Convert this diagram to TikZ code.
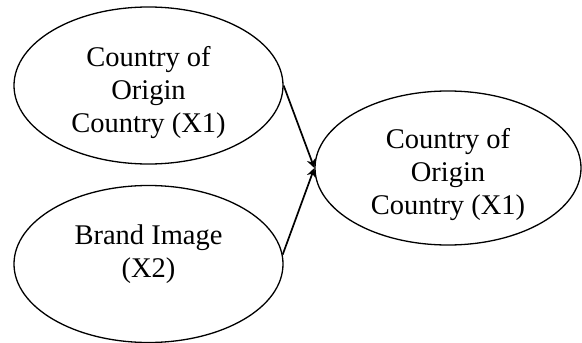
\documentclass[tikz,border=0pt]{standalone}
\usepackage{fontspec}
\setmainfont{Liberation Serif}
\usetikzlibrary{shapes.geometric}
\usetikzlibrary{arrows.meta}
\tikzstyle{construct}=[draw,ellipse,line width=1.3pt,inner sep=0pt,minimum width=269pt,minimum height=157pt,align=center,font=\fontsize{28.5}{33}\selectfont]
\tikzstyle{effect}=[line width=1.7pt,-{Stealth[length=9pt,width=9pt]}]

\begin{document}
\begin{tikzpicture}[x=1pt,y=-1pt]
\useasboundingbox (0,0) rectangle (582,343);
\node[construct] (coo) at (148.5,85.5) {\rule{0pt}{35pt}Country of\\Origin\\Country (X1)};
\node[construct] (bi) at (148.5,264) {Brand Image\\(X2)\\[-8pt]};
\node[construct,minimum width=266pt,minimum height=154pt] (y) at (448,168) {\rule{0pt}{33pt}Country of\\Origin\\Country (X1)};
%\draw (coo)--(y);
\draw[effect] (coo.east) -- (y.west);
\draw[effect] (bi.4) -- (y.west);
\end{tikzpicture}
\end{document}
